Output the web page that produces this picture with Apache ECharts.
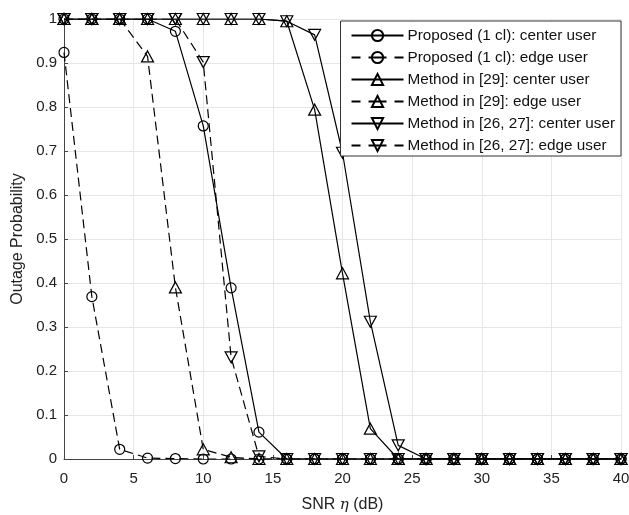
<!DOCTYPE html>
<html>
<head>
<meta charset="utf-8">
<script src="https://cdn.jsdelivr.net/npm/echarts@6/dist/echarts.min.js"></script>
<style>
  html, body { margin: 0; padding: 0; background: #fff; }
  #chart { width: 629px; height: 515px; }
</style>
</head>
<body>
<div id="chart"></div>
<script>
// SNR sweep (dB)
const snr = [0, 2, 4, 6, 8, 10, 12, 14, 16, 18, 20, 22, 24, 26, 28, 30, 32, 34, 36, 38, 40];

// Outage probability per scheme
const proposedCenter = [1, 1, 1, 1, 0.972, 0.757, 0.389, 0.061, 0, 0, 0, 0, 0, 0, 0, 0, 0, 0, 0, 0, 0];
const proposedEdge   = [0.924, 0.369, 0.022, 0.002, 0.001, 0, 0, 0, 0, 0, 0, 0, 0, 0, 0, 0, 0, 0, 0, 0, 0];
const m29Center      = [1, 1, 1, 1, 1, 1, 1, 1, 0.995, 0.794, 0.422, 0.069, 0, 0, 0, 0, 0, 0, 0, 0, 0];
const m29Edge        = [1, 1, 1, 0.915, 0.39, 0.022, 0.004, 0, 0, 0, 0, 0, 0, 0, 0, 0, 0, 0, 0, 0, 0];
const m2627Center    = [1, 1, 1, 1, 1, 1, 1, 1, 0.995, 0.964, 0.696, 0.312, 0.031, 0, 0, 0, 0, 0, 0, 0, 0];
const m2627Edge      = [1, 1, 1, 1, 1, 0.902, 0.231, 0.006, 0, 0, 0, 0, 0, 0, 0, 0, 0, 0, 0, 0, 0];

const seriesNames = [
  'Proposed (1 cl): center user',
  'Proposed (1 cl): edge user',
  'Method in [29]: center user',
  'Method in [29]: edge user',
  'Method in [26, 27]: center user',
  'Method in [26, 27]: edge user'
];

const xTicks = { min: 0, max: 40, interval: 5 };
const yTicks = { min: 0, max: 1, interval: 0.1 };

const font = 'Liberation Sans, Arial, Helvetica, sans-serif';
const ink = '#000';
const dashPattern = [9, 5];
const legendDash = [9, 8, 18, 8, 9];

function pairs(values) {
  return snr.map((x, i) => [x, values[i]]);
}

function makeSeries(name, values, marker, dashed) {
  const isDown = marker === 'down';
  return {
    name: name,
    type: 'line',
    data: pairs(values),
    symbol: marker === 'circle' ? 'circle' : 'triangle',
    symbolRotate: isDown ? 180 : 0,
    symbolSize: marker === 'circle' ? 10 : [12, 11],
    showSymbol: true,
    showAllSymbol: true,
    lineStyle: { color: ink, width: 1.2, type: dashed ? dashPattern : 'solid' },
    itemStyle: { color: 'rgba(255,255,255,0)', borderColor: ink, borderWidth: 1.2 },
    emphasis: { disabled: true },
    z: 3
  };
}

const legendItems = seriesNames.map((name, i) => {
  const item = { name: name };
  if (i % 2 === 1) item.lineStyle = { type: legendDash };
  return item;
});

const chart = echarts.init(document.getElementById('chart'), null, { renderer: 'canvas' });

chart.setOption({
  animation: false,
  backgroundColor: '#fff',
  grid: { left: 64, right: 8, top: 19, bottom: 56, containLabel: false, outerBoundsMode: 'none' },
  legend: {
    orient: 'vertical',
    right: 8,
    top: 21,
    data: legendItems,
    itemWidth: 52,
    itemHeight: 14,
    itemGap: 7,
    padding: [7, 6, 3, 10],
    borderColor: '#333',
    borderWidth: 1,
    backgroundColor: '#fff',
    textStyle: { fontFamily: font, fontSize: 15.3, lineHeight: 15, color: '#111', padding: [0, 0, 0, -1] },
    selectedMode: false
  },
  xAxis: {
    type: 'value',
    min: xTicks.min, max: xTicks.max, interval: xTicks.interval,
    name: 'SNR {i|η} (dB)',
    nameLocation: 'middle',
    nameGap: 38,
    nameTextStyle: {
      fontFamily: font, fontSize: 16, color: '#222',
      rich: { i: { fontFamily: 'DejaVu Serif, serif', fontStyle: 'italic', fontSize: 15, color: '#222' } }
    },
    axisLine: { show: true, onZero: false, lineStyle: { color: '#444', width: 1 } },
    axisTick: { show: true, inside: true, length: 4, lineStyle: { color: '#444' } },
    axisLabel: { fontFamily: font, fontSize: 15, color: '#222', margin: 12 },
    splitLine: { show: true, lineStyle: { color: '#e6e6e6', width: 1 } }
  },
  yAxis: {
    type: 'value',
    min: yTicks.min, max: yTicks.max, interval: yTicks.interval,
    name: 'Outage Probability',
    nameLocation: 'middle',
    nameGap: 38,
    nameTextStyle: { fontFamily: font, fontSize: 16, color: '#222' },
    axisLine: { show: true, onZero: false, lineStyle: { color: '#444', width: 1 } },
    axisTick: { show: true, inside: true, length: 4, lineStyle: { color: '#444' } },
    axisLabel: { fontFamily: font, fontSize: 15, color: '#222', margin: 7 },
    splitLine: { show: true, lineStyle: { color: '#e6e6e6', width: 1 } }
  },
  series: [
    makeSeries(seriesNames[0], proposedCenter, 'circle', false),
    makeSeries(seriesNames[1], proposedEdge, 'circle', true),
    makeSeries(seriesNames[2], m29Center, 'up', false),
    makeSeries(seriesNames[3], m29Edge, 'up', true),
    makeSeries(seriesNames[4], m2627Center, 'down', false),
    makeSeries(seriesNames[5], m2627Edge, 'down', true)
  ]
});
</script>
</body>
</html>
